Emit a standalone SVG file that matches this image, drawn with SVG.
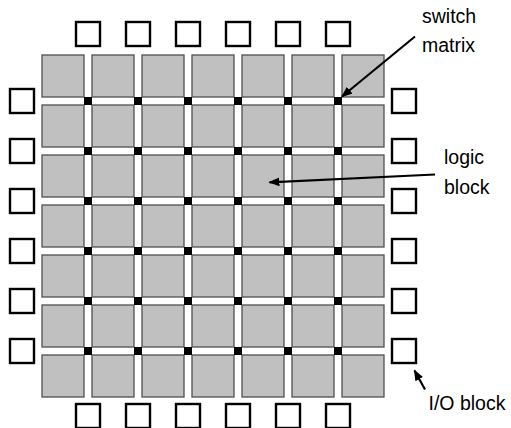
<svg xmlns="http://www.w3.org/2000/svg" width="511" height="428" viewBox="0 0 511 428">
<style>
.lb{fill:#c0c0c0;stroke:#505050;stroke-width:1.3}
.io{fill:#fff;stroke:#000;stroke-width:2.4}
.sw{fill:#000}
.t{font-family:"Liberation Sans",Arial,sans-serif;font-size:19.5px;fill:#000}
.ar{stroke:#000;stroke-width:2.2;fill:none;marker-end:url(#ah)}
</style>
<defs>
<marker id="ah" viewBox="0 0 10 8" refX="9" refY="4" markerWidth="5" markerHeight="4" orient="auto" markerUnits="strokeWidth">
<path d="M0,0 L10,4 L0,8 z" fill="#000"/>
</marker>
<rect id="blk" width="42" height="42" class="lb"/>
<rect id="iob" width="24" height="24" class="io"/>
<rect id="swm" width="8" height="8" class="sw"/>
</defs>
<rect width="511" height="428" fill="#fff"/>
<g id="logic-blocks">
<g id="row1"><use href="#blk" x="42" y="55"/><use href="#blk" x="92" y="55"/><use href="#blk" x="142" y="55"/><use href="#blk" x="192" y="55"/><use href="#blk" x="242" y="55"/><use href="#blk" x="292" y="55"/><use href="#blk" x="342" y="55"/></g>
<g id="row2"><use href="#blk" x="42" y="105"/><use href="#blk" x="92" y="105"/><use href="#blk" x="142" y="105"/><use href="#blk" x="192" y="105"/><use href="#blk" x="242" y="105"/><use href="#blk" x="292" y="105"/><use href="#blk" x="342" y="105"/></g>
<g id="row3"><use href="#blk" x="42" y="155"/><use href="#blk" x="92" y="155"/><use href="#blk" x="142" y="155"/><use href="#blk" x="192" y="155"/><use href="#blk" x="242" y="155"/><use href="#blk" x="292" y="155"/><use href="#blk" x="342" y="155"/></g>
<g id="row4"><use href="#blk" x="42" y="205"/><use href="#blk" x="92" y="205"/><use href="#blk" x="142" y="205"/><use href="#blk" x="192" y="205"/><use href="#blk" x="242" y="205"/><use href="#blk" x="292" y="205"/><use href="#blk" x="342" y="205"/></g>
<g id="row5"><use href="#blk" x="42" y="255"/><use href="#blk" x="92" y="255"/><use href="#blk" x="142" y="255"/><use href="#blk" x="192" y="255"/><use href="#blk" x="242" y="255"/><use href="#blk" x="292" y="255"/><use href="#blk" x="342" y="255"/></g>
<g id="row6"><use href="#blk" x="42" y="305"/><use href="#blk" x="92" y="305"/><use href="#blk" x="142" y="305"/><use href="#blk" x="192" y="305"/><use href="#blk" x="242" y="305"/><use href="#blk" x="292" y="305"/><use href="#blk" x="342" y="305"/></g>
<g id="row7"><use href="#blk" x="42" y="355"/><use href="#blk" x="92" y="355"/><use href="#blk" x="142" y="355"/><use href="#blk" x="192" y="355"/><use href="#blk" x="242" y="355"/><use href="#blk" x="292" y="355"/><use href="#blk" x="342" y="355"/></g>
</g>
<g id="switch-matrices">
<use href="#swm" x="84" y="97"/><use href="#swm" x="134" y="97"/><use href="#swm" x="184" y="97"/><use href="#swm" x="234" y="97"/><use href="#swm" x="284" y="97"/><use href="#swm" x="334" y="97"/>
<use href="#swm" x="84" y="147"/><use href="#swm" x="134" y="147"/><use href="#swm" x="184" y="147"/><use href="#swm" x="234" y="147"/><use href="#swm" x="284" y="147"/><use href="#swm" x="334" y="147"/>
<use href="#swm" x="84" y="197"/><use href="#swm" x="134" y="197"/><use href="#swm" x="184" y="197"/><use href="#swm" x="234" y="197"/><use href="#swm" x="284" y="197"/><use href="#swm" x="334" y="197"/>
<use href="#swm" x="84" y="247"/><use href="#swm" x="134" y="247"/><use href="#swm" x="184" y="247"/><use href="#swm" x="234" y="247"/><use href="#swm" x="284" y="247"/><use href="#swm" x="334" y="247"/>
<use href="#swm" x="84" y="297"/><use href="#swm" x="134" y="297"/><use href="#swm" x="184" y="297"/><use href="#swm" x="234" y="297"/><use href="#swm" x="284" y="297"/><use href="#swm" x="334" y="297"/>
<use href="#swm" x="84" y="347"/><use href="#swm" x="134" y="347"/><use href="#swm" x="184" y="347"/><use href="#swm" x="234" y="347"/><use href="#swm" x="284" y="347"/><use href="#swm" x="334" y="347"/>
</g>
<g id="io-blocks">
<g id="io-top"><use href="#iob" x="76" y="22"/><use href="#iob" x="126" y="22"/><use href="#iob" x="176" y="22"/><use href="#iob" x="226" y="22"/><use href="#iob" x="276" y="22"/><use href="#iob" x="326" y="22"/></g>
<g id="io-bottom"><use href="#iob" x="76" y="404"/><use href="#iob" x="126" y="404"/><use href="#iob" x="176" y="404"/><use href="#iob" x="226" y="404"/><use href="#iob" x="276" y="404"/><use href="#iob" x="326" y="404"/></g>
<g id="io-left"><use href="#iob" x="10" y="89"/><use href="#iob" x="10" y="139"/><use href="#iob" x="10" y="189"/><use href="#iob" x="10" y="239"/><use href="#iob" x="10" y="289"/><use href="#iob" x="10" y="339"/></g>
<g id="io-right"><use href="#iob" x="392" y="89"/><use href="#iob" x="392" y="139"/><use href="#iob" x="392" y="189"/><use href="#iob" x="392" y="239"/><use href="#iob" x="392" y="289"/><use href="#iob" x="392" y="339"/></g>
</g>
<g id="connectors">
<line class="ar" x1="415" y1="36.5" x2="342" y2="96.5"/>
<line class="ar" x1="435" y1="174.5" x2="269.5" y2="182.3"/>
<line class="ar" x1="425" y1="389.5" x2="414.5" y2="370.5"/>
</g>
<g id="labels">
<text class="t" x="422" y="22.5">switch</text>
<text class="t" x="422" y="52">matrix</text>
<text class="t" x="444" y="163.5">logic</text>
<text class="t" x="444" y="193.5">block</text>
<text class="t" x="428.5" y="410">I/O block</text>
</g>
</svg>
